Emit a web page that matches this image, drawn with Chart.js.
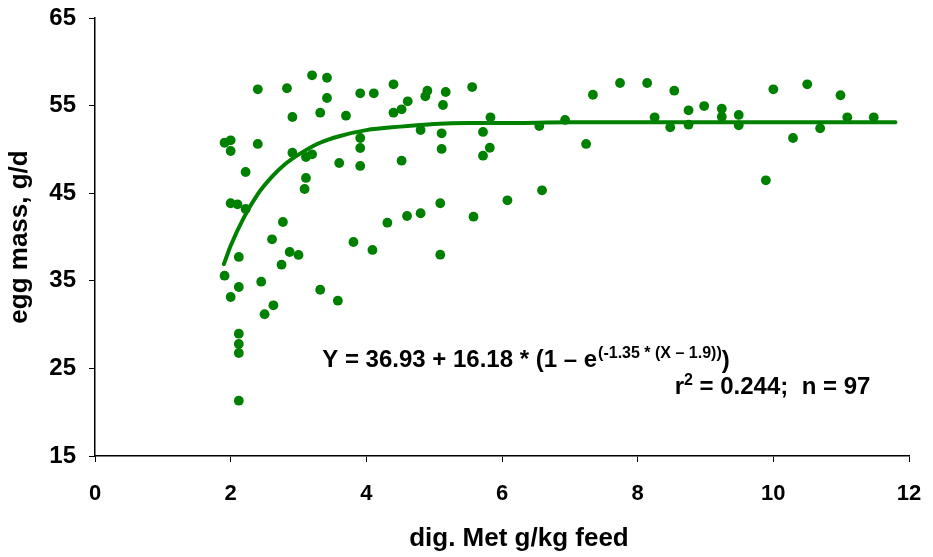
<!DOCTYPE html>
<html>
<head>
<meta charset="utf-8">
<script src="https://cdn.jsdelivr.net/npm/chart.js@4.4.0/dist/chart.umd.min.js"></script>
<style>
    html, body { margin: 0; padding: 0; background: #fff; }
    #wrap { width: 933px; height: 557px; }
</style>
</head>
<body>
<div id="wrap"><canvas id="eggChart" width="933" height="557"></canvas></div>
<script>
// observed hens: digestible Met (g/kg feed) vs egg mass (g/d)
const metX = [
    2.40, 2.83, 3.20, 3.42, 3.42, 3.91, 4.11, 2.91, 3.32, 3.70,
    1.91, 2.00, 2.00, 2.40, 3.91, 3.91, 2.91, 3.11, 3.20, 3.60,
    3.91, 2.22, 3.11, 3.09, 2.00, 2.10, 2.22, 2.77, 2.61, 2.12,
    2.87, 3.00, 2.75, 3.81, 4.09, 1.91, 2.45, 2.12, 2.00, 3.32,
    3.58, 2.63, 2.50, 2.12, 2.12, 2.12, 2.12, 4.40, 4.90, 4.87,
    5.17, 5.56, 7.34, 4.61, 4.52, 4.40, 5.13, 5.83, 6.93, 6.55,
    4.80, 5.11, 5.72, 5.11, 5.82, 5.72, 4.52, 7.24, 6.59, 6.08,
    5.09, 4.80, 4.60, 5.58, 4.31, 5.09, 7.74, 8.14, 8.54, 10.00,
    10.50, 10.99, 8.25, 8.48, 8.75, 8.75, 8.98, 9.24, 9.24, 9.49,
    9.49, 9.89, 10.29, 10.69, 11.09, 11.48
];
const eggMass = [
    56.86, 56.98, 58.46, 58.18, 55.87, 56.40, 56.40, 53.70, 54.19, 53.85,
    50.76, 51.04, 49.82, 50.62, 51.30, 50.16, 49.62, 49.13, 49.44, 48.45,
    48.11, 47.42, 46.74, 45.48, 43.85, 43.73, 43.20, 41.71, 39.74, 37.72,
    38.29, 37.95, 36.84, 39.43, 38.52, 35.58, 34.90, 34.29, 33.15, 33.98,
    32.73, 32.20, 31.18, 28.96, 27.79, 26.76, 21.31, 57.43, 56.70, 56.06,
    56.55, 57.12, 56.24, 55.49, 54.58, 54.19, 55.07, 53.66, 53.36, 52.67,
    52.21, 51.84, 51.99, 50.05, 50.19, 49.28, 48.71, 50.62, 45.33, 44.19,
    43.85, 42.71, 42.40, 42.32, 41.63, 37.98, 57.58, 57.58, 56.70, 56.86,
    57.43, 56.18, 53.66, 52.52, 54.46, 52.82, 54.95, 54.65, 53.73, 53.93,
    52.75, 46.47, 51.30, 52.41, 53.66, 53.66
];

// fitted curve
const fitX = [1.9, 2.0, 2.2, 2.4, 2.6, 2.8, 3.0, 3.3, 3.6, 4.0, 4.5, 5.0, 5.5, 6.0, 7.0, 8.0, 9.0, 10.0, 11.0, 11.8];
const fitY = [36.9, 39.0, 42.3, 44.9, 46.8, 48.3, 49.4, 50.7, 51.5, 52.2, 52.6, 52.9, 53.0, 53.0, 53.1, 53.1, 53.1, 53.1, 53.1, 53.1];

const xTicks = [0, 2, 4, 6, 8, 10, 12];
const yTicks = [15, 25, 35, 45, 55, 65];

const xTitle = 'dig. Met g/kg feed';
const yTitle = 'egg mass, g/d';
const eqMain = 'Y = 36.93 + 16.18 * (1 \u2013 e';
const eqSup = '(-1.35 * (X \u2013 1.9))';
const eqEnd = ')';
const statsText = ' = 0.244;  n = 97';

const FONT = '"Liberation Sans", Arial, sans-serif';
const GREEN = '#008000';

// equation text and x title, anchored in data units
const equationText = {
    id: 'equationText',
    afterDatasetsDraw(chart) {
        const { ctx, scales: { x, y } } = chart;
        ctx.save();
        ctx.fillStyle = '#000';
        ctx.textBaseline = 'alphabetic';
        ctx.textAlign = 'left';

        let px = x.getPixelForValue(3.35);
        let py = y.getPixelForValue(25.16);
        ctx.font = 'bold 24px ' + FONT;
        ctx.fillText(eqMain, px, py);
        px += ctx.measureText(eqMain).width + 1;
        ctx.font = 'bold 16px ' + FONT;
        ctx.fillText(eqSup, px, py - 9);
        px += ctx.measureText(eqSup).width;
        ctx.font = 'bold 24px ' + FONT;
        ctx.fillText(eqEnd, px, py + 1);

        // second line, right aligned
        const right = x.getPixelForValue(11.43);
        const py2 = y.getPixelForValue(22.08);
        ctx.font = 'bold 24px ' + FONT;
        const wStats = ctx.measureText(statsText).width;
        const wR = ctx.measureText('r').width;
        ctx.font = 'bold 16px ' + FONT;
        const wSup = ctx.measureText('2').width;
        let sx = right - wStats - wSup - wR;
        ctx.font = 'bold 24px ' + FONT;
        ctx.fillText('r', sx, py2);
        sx += wR;
        ctx.font = 'bold 16px ' + FONT;
        ctx.fillText('2', sx, py2 - 9);
        sx += wSup;
        ctx.font = 'bold 24px ' + FONT;
        ctx.fillText(statsText, sx, py2);

        // x axis title, a little right of centre like the original
        ctx.font = 'bold 26px ' + FONT;
        ctx.textAlign = 'center';
        ctx.textBaseline = 'middle';
        ctx.fillText(xTitle, x.getPixelForValue(6.25), chart.height - 18);
        ctx.restore();
    }
};

document.addEventListener('DOMContentLoaded', function() {
    const ctx = document.getElementById('eggChart');

    new Chart(ctx, {
        type: 'scatter',
        data: {
            datasets: [
                {
                    type: 'line',
                    label: 'fit',
                    data: fitX.map((v, i) => ({ x: v, y: fitY[i] })),
                    borderColor: GREEN,
                    borderWidth: 4,
                    pointRadius: 0,
                    fill: false,
                    cubicInterpolationMode: 'monotone',
                    borderCapStyle: 'round'
                },
                {
                    label: 'observed',
                    data: metX.map((v, i) => ({ x: v, y: eggMass[i] })),
                    backgroundColor: GREEN,
                    borderColor: GREEN,
                    borderWidth: 0,
                    pointRadius: 4.9
                }
            ]
        },
        options: {
            responsive: false,
            animation: false,
            layout: {
                padding: { left: 0, right: 24, top: 18, bottom: 0 }
            },
            scales: {
                x: {
                    type: 'linear',
                    min: 0,
                    max: 12,
                    afterBuildTicks: (s) => { s.ticks = xTicks.map(v => ({ value: v })); },
                    afterFit: (s) => {
                        s.height = 101;
                        s.paddingLeft = 0;
                        s.paddingRight = 0;
                    },
                    grid: {
                        drawOnChartArea: false,
                        drawTicks: true,
                        tickLength: 6,
                        color: '#000',
                        lineWidth: 1
                    },
                    border: { display: true, color: '#000', width: 1.5 },
                    ticks: {
                        color: '#000',
                        padding: 19,
                        maxRotation: 0,
                        font: { family: FONT, size: 22, weight: 'bold' }
                    },
                    title: { display: false, text: xTitle }
                },
                y: {
                    type: 'linear',
                    min: 15,
                    max: 65,
                    afterBuildTicks: (s) => { s.ticks = yTicks.map(v => ({ value: v })); },
                    afterFit: (s) => {
                        s.width = 95;
                        s.paddingTop = 0;
                        s.paddingBottom = 0;
                    },
                    grid: {
                        drawOnChartArea: false,
                        drawTicks: true,
                        tickLength: 6,
                        color: '#000',
                        lineWidth: 1
                    },
                    border: { display: true, color: '#000', width: 1.5 },
                    ticks: {
                        color: '#000',
                        padding: 13,
                        font: { family: FONT, size: 24, weight: 'bold' }
                    },
                    title: {
                        display: true,
                        text: yTitle,
                        color: '#000',
                        padding: { top: 4, bottom: 0 },
                        font: { family: FONT, size: 26, weight: 'bold' }
                    }
                }
            },
            plugins: {
                legend: { display: false },
                tooltip: { enabled: false }
            }
        },
        plugins: [equationText]
    });
});
</script>
</body>
</html>
